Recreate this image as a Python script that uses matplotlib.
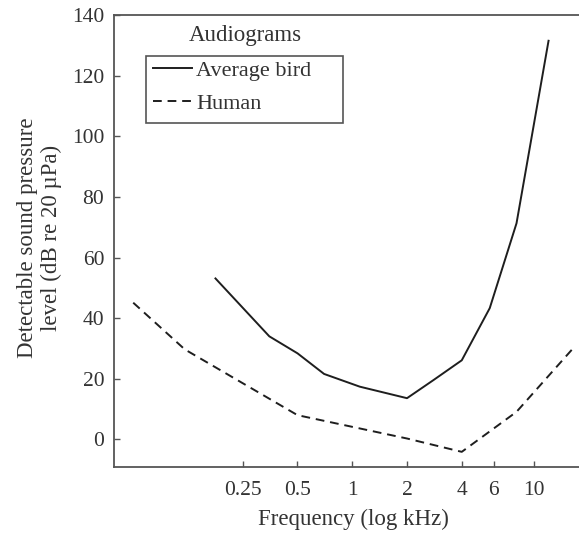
import matplotlib
matplotlib.use("Agg")
import matplotlib.pyplot as plt
from matplotlib.patches import Rectangle
from matplotlib.ticker import FixedLocator, FixedFormatter, NullLocator

plt.rcParams['font.family'] = ['Liberation Serif', 'DejaVu Serif']

# Data (frequency in kHz, threshold in dB re 20 µPa)
bird_freq = [0.177, 0.35, 0.5, 0.7, 1.1, 2.0, 2.8, 4.0, 5.7, 8.0, 12.0]
bird_db = [53.1, 34.0, 28.4, 21.6, 17.4, 13.6, 19.6, 26.1, 43.3, 71.3, 131.5]
human_freq = [0.0625, 0.12, 0.5, 2.0, 4.0, 8.0, 16.4]
human_db = [45.1, 29.7, 8.0, 0.3, -4.1, 9.1, 30.1]

xtick_vals = [0.25, 0.5, 1, 2, 4, 6, 10]
xtick_labels = ["0.25", "0.5", "1", "2", "4", "6", "10"]
ytick_vals = [0, 20, 40, 60, 80, 100, 120, 140]

W, H = 579, 533
fig = plt.figure(figsize=(W / 100, H / 100), dpi=100)
ax = fig.add_axes([114 / W, 1 - 466.7 / H, (592 - 114) / W, (466.7 - 15) / H])

line_col = '#1e1e1e'
spine_col = '#555555'
text_col = '#333333'

lb, = ax.plot(bird_freq, bird_db, color=line_col, lw=1.4, label='Average bird')
lh, = ax.plot(human_freq, human_db, color=line_col, lw=1.4, ls=(0, (4.5, 3.0)), label='Human')

ax.set_xscale('log', base=2)
ax.set_xlim(0.049, 20.8)
ax.set_ylim(-9, 140)

ax.xaxis.set_major_locator(FixedLocator(xtick_vals))
ax.xaxis.set_major_formatter(FixedFormatter(xtick_labels))
ax.xaxis.set_minor_locator(NullLocator())
ax.set_yticks(ytick_vals)

ax.tick_params(axis='both', direction='in', length=4.5, width=1, color=spine_col,
               labelsize=15.5, labelcolor=text_col)
ax.tick_params(axis='x', pad=10)
ax.tick_params(axis='y', pad=7)

for s in ['left', 'bottom', 'top']:
    ax.spines[s].set_color(spine_col)
    ax.spines[s].set_linewidth(1.3)
ax.spines['right'].set_visible(False)

ax.set_xlabel('Frequency (log kHz)', fontsize=16.5, color=text_col)
ax.xaxis.set_label_coords((353 - 114) / (592 - 114), -0.094)
ax.set_ylabel('Detectable sound pressure\nlevel (dB re 20 µPa)', fontsize=16.5,
              color=text_col, linespacing=1.2)
ax.yaxis.set_label_coords(-(114 - 62) / (592 - 114), 0.507)

# Legend
leg = ax.legend(handles=[lb, lh], loc='upper left',
                bbox_to_anchor=(150 / W, 1 - 57 / H), bbox_transform=fig.transFigure,
                frameon=False, fontsize=16, handlelength=1.72, handletextpad=0.2,
                labelspacing=0.55, borderaxespad=0, borderpad=0.15)
for t in leg.get_texts():
    t.set_color(text_col)

fig.patches.append(Rectangle((145.5 / W, 1 - 123.3 / H), (343 - 145.5) / W, (123.3 - 55.7) / H,
                             transform=fig.transFigure, fill=False, ec=spine_col, lw=1.2))
fig.text(245 / W, 1 - 35 / H, 'Audiograms', ha='center', va='center', fontsize=16.5, color=text_col)

fig.savefig('out.png', dpi=100)
